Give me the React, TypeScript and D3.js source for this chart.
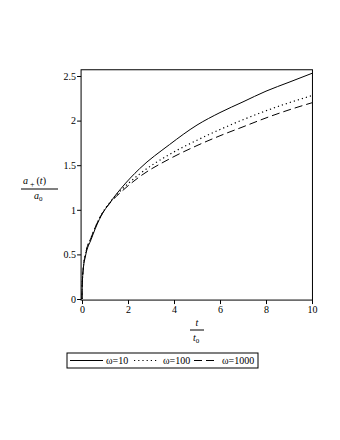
import { useEffect, useRef } from "react";
import * as d3 from "d3";

// sample times (t / t0)
const times = [0, 0.01, 0.05, 0.15, 0.4, 0.75, 1.3, 1.7, 2.5, 3.8, 5, 6, 7, 8, 9, 10];
// a+(t)/a0 for each omega
const omega10 = [0, 0.15, 0.32, 0.48, 0.67, 0.89, 1.11, 1.24, 1.46, 1.73, 1.95, 2.09, 2.21, 2.33, 2.43, 2.53];
const omega100 = [0, 0.16, 0.33, 0.5, 0.69, 0.9, 1.11, 1.22, 1.4, 1.62, 1.78, 1.9, 2.01, 2.11, 2.2, 2.28];
const omega1000 = [0, 0.16, 0.33, 0.5, 0.69, 0.9, 1.1, 1.2, 1.37, 1.57, 1.72, 1.83, 1.93, 2.03, 2.12, 2.2];
const seriesNames = ["ω=10", "ω=100", "ω=1000"];
const xTicks = [0, 2, 4, 6, 8, 10];
const yTicks = [0, 0.5, 1, 1.5, 2, 2.5];

const FONT = "'Liberation Serif', 'DejaVu Serif', serif";

const App = () => {
  const svgRef = useRef<SVGSVGElement>(null);

  useEffect(() => {
    const svg = d3.select(svgRef.current);
    svg.selectAll("*").remove();

    const x = d3.scaleLinear().domain([0, 10]).range([82, 312]);
    const y = d3.scaleLinear().domain([0, 2.5]).range([299, 76]);

    const left = x(-0.04);
    const right = x(10.02);
    const top = y(2.57);
    const bottom = y(-0.012);

    svg.append("rect").attr("width", 340).attr("height", 440).attr("fill", "white");

    // frame
    svg
      .append("rect")
      .attr("x", left)
      .attr("y", top)
      .attr("width", right - left)
      .attr("height", bottom - top)
      .attr("fill", "none")
      .attr("stroke", "black")
      .attr("stroke-width", 1);

    // y axis minor + major
    const gy = svg.append("g").attr("transform", `translate(${left},0)`);
    gy.call(
      d3.axisLeft(y).tickValues(d3.range(0, 2.51, 0.1)).tickSize(2).tickFormat(() => "")
    );
    gy.call(d3.axisLeft(y).tickValues(yTicks).tickSize(4).tickFormat(d3.format("")));
    gy.select(".domain").remove();
    gy.selectAll("text")
      .attr("font-family", FONT)
      .attr("font-size", 10)
      .attr("fill", "black")
      .attr("x", -5);

    // x axis minor + major
    const gx = svg.append("g").attr("transform", `translate(0,${bottom})`);
    gx.call(d3.axisBottom(x).tickValues(d3.range(0, 11, 1)).tickSize(2).tickFormat(() => ""));
    gx.call(d3.axisBottom(x).tickValues(xTicks).tickSize(4).tickFormat(d3.format("")));
    gx.select(".domain").remove();
    gx.selectAll("text")
      .attr("font-family", FONT)
      .attr("font-size", 10)
      .attr("fill", "black")
      .attr("y", 6);

    const styles = [
      { dash: null, width: 1 },
      { dash: "1.2,3", width: 1.2 },
      { dash: "8,4", width: 1 },
    ];
    const all = [omega10, omega100, omega1000];

    const line = d3
      .line<number>()
      .x((_, i) => x(times[i]))
      .y((d) => y(d))
      .curve(d3.curveMonotoneX);

    all.forEach((vals, k) => {
      svg
        .append("path")
        .datum(vals)
        .attr("fill", "none")
        .attr("stroke", "black")
        .attr("stroke-width", styles[k].width)
        .attr("stroke-dasharray", styles[k].dash)
        .attr("d", line);
    });

    // y label: a+(t) / a0
    const yl = svg.append("g").attr("font-family", FONT).attr("font-size", 10).attr("fill", "black");
    const num = yl.append("text").attr("x", 23).attr("y", 184);
    num.append("tspan").attr("font-style", "italic").text("a");
    num.append("tspan").attr("font-size", 8).attr("dy", 3).attr("dx", 2).text("+");
    num.append("tspan").attr("dy", -3).attr("dx", 2).text("(");
    num.append("tspan").attr("font-style", "italic").text("t");
    num.append("tspan").text(")");
    yl.append("line").attr("x1", 21).attr("x2", 58).attr("y1", 189).attr("y2", 189).attr("stroke", "black");
    const den = yl.append("text").attr("x", 34).attr("y", 199);
    den.append("tspan").attr("font-style", "italic").text("a");
    den.append("tspan").attr("font-size", 7).attr("dy", 2).text("0");

    // x label: t / t0
    const xl = svg.append("g").attr("font-family", FONT).attr("font-size", 10).attr("fill", "black");
    xl.append("text").attr("x", 197).attr("y", 326).attr("text-anchor", "middle").attr("font-style", "italic").text("t");
    xl.append("line").attr("x1", 190).attr("x2", 204).attr("y1", 330).attr("y2", 330).attr("stroke", "black");
    const t0 = xl.append("text").attr("x", 193).attr("y", 341);
    t0.append("tspan").attr("font-style", "italic").text("t");
    t0.append("tspan").attr("font-size", 7).attr("dy", 2).text("0");

    // legend
    const lg = svg.append("g");
    lg.append("rect")
      .attr("x", 67)
      .attr("y", 353)
      .attr("width", 191)
      .attr("height", 15)
      .attr("fill", "white")
      .attr("stroke", "black");
    const items = [
      { x1: 70, x2: 103, tx: 106 },
      { x1: 134, x2: 158, tx: 163 },
      { x1: 194, x2: 218, tx: 222 },
    ];
    seriesNames.forEach((name, k) => {
      lg.append("line")
        .attr("x1", items[k].x1)
        .attr("x2", items[k].x2)
        .attr("y1", 360.5)
        .attr("y2", 360.5)
        .attr("stroke", "black")
        .attr("stroke-width", styles[k].width)
        .attr("stroke-dasharray", styles[k].dash);
      lg.append("text")
        .attr("x", items[k].tx)
        .attr("y", 364)
        .attr("font-family", FONT)
        .attr("font-size", 10)
        .text(name);
    });
  }, []);

  return (
    <svg
      ref={svgRef}
      width={340}
      height={440}
      style={{ position: "absolute", left: 0, top: 0 }}
    />
  );
};

export default App;
